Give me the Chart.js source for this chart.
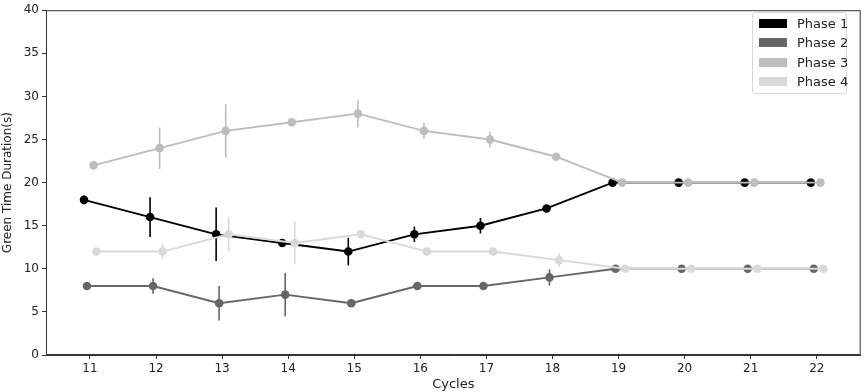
<!DOCTYPE html>
<html>
<head>
<meta charset="utf-8">
<script src="https://cdn.jsdelivr.net/npm/chart.js@4.4.1/dist/chart.umd.min.js"></script>
<style>
  html, body { margin: 0; padding: 0; background: #fff; }
  #wrap { position: relative; width: 865px; height: 392px; }
  #legend {
    position: absolute; left: 752px; top: 12px; width: 93px;
    border: 1px solid #d8d8d8; border-radius: 3px; background: #fff;
    padding: 1px 0 1px 0; font-family: "DejaVu Sans", sans-serif; font-size: 13px; color: #222;
  }
  #legend div { height: 19.4px; line-height: 19.4px; white-space: nowrap; }
  #legend span.sw { display: inline-block; width: 28px; height: 9px; margin: 0 10px 0 6px; }
</style>
</head>
<body>
<div id="wrap">
  <canvas id="phaseChart" width="865" height="392"></canvas>
  <div id="legend"></div>
</div>
<script>
const cycles = [11, 12, 13, 14, 15, 16, 17, 18, 19, 20, 21, 22];
const seriesNames = ["Phase 1", "Phase 2", "Phase 3", "Phase 4"];
const phase1 = [18, 16, 14, 13, 12, 14, 15, 17, 20, 20, 20, 20];
const phase2 = [8, 8, 6, 7, 6, 8, 8, 9, 10, 10, 10, 10];
const phase3 = [22, 24, 26, 27, 28, 26, 25, 23, 20, 20, 20, 20];
const phase4 = [12, 12, 14, 13, 14, 12, 12, 11, 10, 10, 10, 10];
const phase1Err = [0.5, 2.3, 3.1, 0, 1.6, 0.9, 0.9, 0, 0, 0, 0, 0];
const phase2Err = [0, 0.9, 2.0, 2.5, 0, 0, 0, 0.95, 0, 0, 0, 0];
const phase3Err = [0, 2.4, 3.1, 0, 1.6, 0.9, 0.9, 0, 0, 0, 0, 0];
const phase4Err = [0.4, 0.9, 2.0, 2.5, 0, 0, 0, 0.8, 0, 0, 0, 0];
const xOffsets = [-0.09, -0.045, 0.055, 0.1];
const colors = ["#000000", "#666666", "#bdbdbd", "#d9d9d9"];
const yTicks = [0, 5, 10, 15, 20, 25, 30, 35, 40];

const values = [phase1, phase2, phase3, phase4];
const errors = [phase1Err, phase2Err, phase3Err, phase4Err];

const datasets = values.map(function (vals, i) {
  return {
    label: seriesNames[i],
    data: vals.map(function (v, j) {
      return { x: cycles[j] + xOffsets[i], y: v };
    }),
    errors: errors[i],
    borderColor: colors[i],
    backgroundColor: colors[i],
    pointBackgroundColor: colors[i],
    pointBorderWidth: 0,
    pointRadius: 4.3,
    borderWidth: 1.9,
    tension: 0,
    order: 4 - i,
  };
});

// vertical error bars, drawn right after each dataset so layering matches
const errorBars = {
  id: "errorBars",
  afterDatasetDraw(chart, args) {
    const ds = chart.data.datasets[args.index];
    const ctx = chart.ctx;
    const ys = chart.scales.y;
    ctx.save();
    ctx.strokeStyle = ds.borderColor;
    ctx.lineWidth = 1.6;
    args.meta.data.forEach(function (pt, j) {
      const e = ds.errors[j];
      if (!e) return;
      const v = ds.data[j].y;
      ctx.beginPath();
      ctx.moveTo(pt.x, ys.getPixelForValue(v + e));
      ctx.lineTo(pt.x, ys.getPixelForValue(v - e));
      ctx.stroke();
    });
    ctx.restore();
  },
};

const frame = {
  id: "frame",
  afterDraw(chart) {
    const a = chart.chartArea;
    const ctx = chart.ctx;
    ctx.save();
    ctx.strokeStyle = "#333";
    ctx.lineWidth = 1;
    ctx.strokeRect(a.left + 0.5, a.top + 0.5, a.right - a.left - 1, a.bottom - a.top - 1);
    ctx.restore();
  },
};

const tickFont = { family: "DejaVu Sans", size: 12 };

new Chart(document.getElementById("phaseChart"), {
  type: "line",
  data: { datasets: datasets },
  options: {
    responsive: false,
    animation: false,
    layout: { padding: { top: 5, right: 3, left: 0, bottom: 0 } },
    plugins: { legend: { display: false }, tooltip: { enabled: false } },
    scales: {
      x: {
        type: "linear",
        min: 10.335,
        max: 22.665,
        afterBuildTicks: function (axis) {
          axis.ticks = cycles.map(function (c) { return { value: c }; });
        },
        afterFit: function (axis) { axis.height = 37; },
        grid: { drawOnChartArea: false, drawTicks: true, tickLength: 4, color: "#333" },
        border: { color: "#333" },
        ticks: { color: "#222", font: tickFont, padding: 3 },
        title: { display: true, text: "Cycles", color: "#222", font: { family: "DejaVu Sans", size: 13 }, padding: { top: 0, bottom: 0 } },
      },
      y: {
        min: 0,
        max: 40,
        afterBuildTicks: function (axis) {
          axis.ticks = yTicks.map(function (t) { return { value: t }; });
        },
        afterFit: function (axis) { axis.width = 46; },
        grid: { drawOnChartArea: false, drawTicks: true, tickLength: 4, color: "#333" },
        border: { color: "#333" },
        ticks: { color: "#222", font: tickFont, padding: 3 },
        title: { display: true, text: "Green Time Duration(s)", color: "#222", font: { family: "DejaVu Sans", size: 12 }, padding: { top: 1, bottom: 0 } },
      },
    },
  },
  plugins: [errorBars, frame],
});

const legendEl = document.getElementById("legend");
seriesNames.forEach(function (name, i) {
  const row = document.createElement("div");
  row.innerHTML = '<span class="sw" style="background:' + colors[i] + '"></span>' + name;
  legendEl.appendChild(row);
});
</script>
</body>
</html>
